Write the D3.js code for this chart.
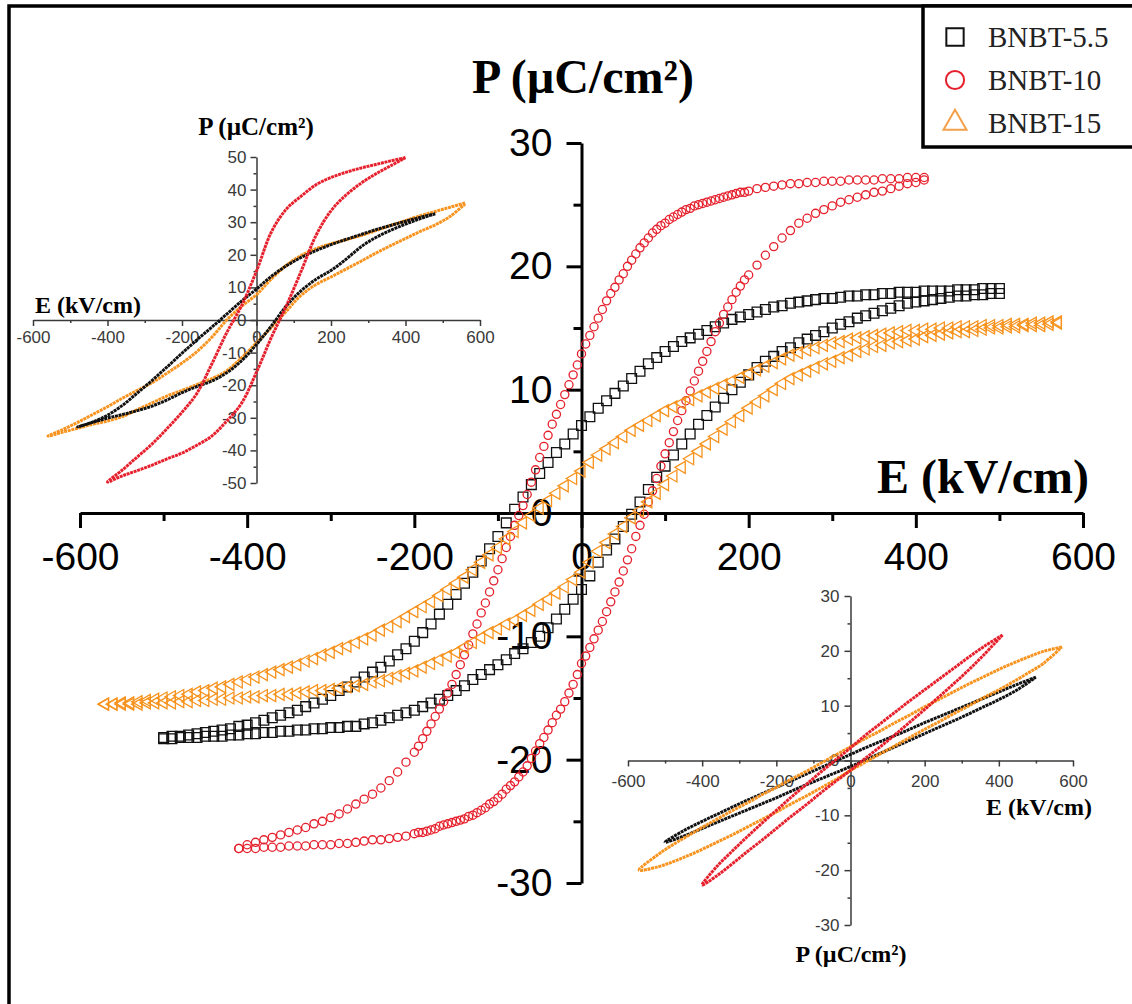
<!DOCTYPE html>
<html>
<head>
<meta charset="utf-8">
<script src="https://cdn.jsdelivr.net/npm/d3@7"></script>
<style>
  body { margin: 0; background: #fff; }
</style>
</head>
<body>
<div id="chart"></div>
<script>
// ---- main plot, field grids (kV/cm) ----
const E_BNBT55 = [
  -500, -490, -480, -470, -460, -450, -440, -430, -420, -410,
  -400, -390, -380, -370, -360, -350, -340, -330, -320, -310,
  -300, -290, -280, -270, -260, -250, -240, -230, -220, -210,
  -200, -190, -180, -170, -160, -150, -140, -130, -120, -110,
  -100, -90, -80, -70, -60, -50, -40, -30, -20, -10,
  0, 10, 20, 30, 40, 50, 60, 70, 80, 90,
  100, 110, 120, 130, 140, 150, 160, 170, 180, 190,
  200, 210, 220, 230, 240, 250, 260, 270, 280, 290,
  300, 310, 320, 330, 340, 350, 360, 370, 380, 390,
  400, 410, 420, 430, 440, 450, 460, 470, 480, 490,
  500
];
// polarisation (uC/cm2), descending-field branch
const P_BNBT55_UP = [
  -18.2, -18.1, -18.1, -18.0, -17.9, -17.8, -17.7, -17.6, -17.5, -17.3,
  -17.2, -17.0, -16.8, -16.6, -16.4, -16.2, -16.0, -15.7, -15.4, -15.1,
  -14.8, -14.4, -14.1, -13.7, -13.3, -12.9, -12.5, -12.0, -11.5, -11.0,
  -10.4, -9.7, -9.0, -8.2, -7.4, -6.6, -5.7, -4.8, -3.9, -2.9,
  -1.9, -0.8, 0.3, 1.3, 2.3, 3.2, 4.1, 4.9, 5.6, 6.4,
  7.1, 7.8, 8.5, 9.1, 9.7, 10.3, 10.9, 11.5, 12.1, 12.6,
  13.1, 13.5, 13.9, 14.2, 14.5, 14.8, 15.1, 15.4, 15.7, 15.9,
  16.1, 16.3, 16.5, 16.7, 16.8, 17.0, 17.1, 17.2, 17.3, 17.4,
  17.4, 17.5, 17.6, 17.6, 17.7, 17.7, 17.8, 17.8, 17.9, 17.9,
  17.9, 18.0, 18.0, 18.0, 18.0, 18.1, 18.1, 18.1, 18.2, 18.2,
  18.2
];
// ascending-field branch
const P_BNBT55_DN = [
  -18.3, -18.3, -18.2, -18.2, -18.2, -18.1, -18.1, -18.1, -18.0, -18.0,
  -17.9, -17.9, -17.8, -17.8, -17.7, -17.7, -17.6, -17.6, -17.5, -17.5,
  -17.4, -17.4, -17.3, -17.3, -17.1, -17.0, -16.8, -16.6, -16.4, -16.2,
  -16.0, -15.7, -15.4, -15.1, -14.8, -14.4, -14.0, -13.5, -13.1, -12.7,
  -12.3, -11.9, -11.4, -11.0, -10.5, -10.0, -9.3, -8.6, -7.8, -7.0,
  -6.2, -5.1, -4.0, -3.0, -2.1, -1.1, -0.1, 0.9, 1.9, 2.9,
  3.8, 4.7, 5.6, 6.4, 7.2, 7.9, 8.6, 9.3, 10.0, 10.6,
  11.2, 11.8, 12.3, 12.7, 13.1, 13.4, 13.8, 14.1, 14.4, 14.7,
  15.0, 15.3, 15.5, 15.8, 16.0, 16.2, 16.4, 16.6, 16.8, 17.0,
  17.1, 17.2, 17.3, 17.4, 17.5, 17.6, 17.6, 17.7, 17.7, 17.8,
  17.8
];

const E_BNBT10 = [
  -410,
  -400, -390, -380, -370, -360, -350, -340, -330, -320, -310,
  -300, -290, -280, -270, -260, -250, -240, -230, -220, -210,
  -200, -195, -190, -185, -180, -175, -170, -165, -160, -155,
  -150, -145, -140, -135, -130, -125, -120, -115, -110, -105,
  -100, -95, -90, -85, -80, -75, -70, -65, -60, -55,
  -50, -45, -40, -35, -30, -25, -20, -15, -10, -5,
  0, 5, 10, 15, 20, 25, 30, 35, 40, 45,
  50, 55, 60, 65, 70, 75, 80, 85, 90, 95,
  100, 105, 110, 115, 120, 125, 130, 135, 140, 145,
  150, 155, 160, 165, 170, 175, 180, 185, 190, 195,
  200, 210, 220, 230, 240, 250, 260, 270, 280, 290,
  300, 310, 320, 330, 340, 350, 360, 370, 380, 390,
  400, 410
];
const P_BNBT10_UP = [
  -27.2,
  -26.9, -26.7, -26.5, -26.3, -26.1, -25.9, -25.7, -25.5, -25.2, -25.0,
  -24.7, -24.4, -24.0, -23.6, -23.2, -22.8, -22.3, -21.7, -21.0, -20.2,
  -19.4, -18.9, -18.3, -17.7, -17.1, -16.5, -15.9, -15.3, -14.6, -13.9,
  -13.1, -12.3, -11.5, -10.7, -9.8, -9.0, -8.1, -7.3, -6.4, -5.5,
  -4.6, -3.7, -2.8, -1.9, -1.0, -0.2, 0.6, 1.5, 2.5, 3.5,
  4.5, 5.4, 6.3, 7.2, 8.0, 8.8, 9.6, 10.4, 11.2, 12.0,
  12.9, 13.7, 14.4, 15.1, 15.8, 16.5, 17.2, 17.8, 18.3, 18.9,
  19.4, 20.0, 20.5, 21.0, 21.5, 21.9, 22.3, 22.7, 23.0, 23.3,
  23.5, 23.8, 24.0, 24.2, 24.4, 24.6, 24.7, 24.9, 25.0, 25.1,
  25.2, 25.3, 25.4, 25.5, 25.6, 25.7, 25.8, 25.9, 26.0, 26.0,
  26.1, 26.3, 26.4, 26.5, 26.6, 26.7, 26.7, 26.8, 26.8, 26.9,
  26.9, 26.9, 27.0, 27.0, 27.0, 27.0, 27.1, 27.1, 27.1, 27.2,
  27.2, 27.2
];
const P_BNBT10_DN = [
  -27.2,
  -27.2, -27.2, -27.1, -27.1, -27.1, -27.0, -27.0, -27.0, -26.9, -26.9,
  -26.9, -26.8, -26.8, -26.7, -26.6, -26.5, -26.5, -26.4, -26.3, -26.2,
  -26.0, -25.9, -25.9, -25.8, -25.7, -25.6, -25.4, -25.3, -25.2, -25.1,
  -25.0, -24.9, -24.8, -24.6, -24.5, -24.3, -24.1, -23.9, -23.6, -23.4,
  -23.1, -22.8, -22.4, -22.1, -21.8, -21.4, -21.0, -20.5, -19.9, -19.3,
  -18.7, -18.2, -17.6, -17.0, -16.4, -15.9, -15.3, -14.6, -13.9, -13.1,
  -12.2, -11.6, -10.9, -10.2, -9.5, -8.8, -8.0, -7.2, -6.4, -5.6,
  -4.7, -3.8, -2.9, -1.9, -1.0, -0.1, 0.9, 1.8, 2.8, 3.8,
  4.8, 5.7, 6.6, 7.5, 8.3, 9.1, 9.9, 10.7, 11.5, 12.3,
  13.1, 13.9, 14.7, 15.4, 16.1, 16.7, 17.3, 17.9, 18.4, 18.9,
  19.3, 20.1, 20.9, 21.6, 22.3, 22.9, 23.5, 23.9, 24.3, 24.6,
  24.9, 25.2, 25.4, 25.6, 25.8, 26.0, 26.1, 26.3, 26.5, 26.7,
  26.8, 27.0
];

const E_BNBT15 = [
  -570, -560, -550, -540, -530, -520, -510,
  -500, -490, -480, -470, -460, -450, -440, -430, -420, -410,
  -400, -390, -380, -370, -360, -350, -340, -330, -320, -310,
  -300, -290, -280, -270, -260, -250, -240, -230, -220, -210,
  -200, -190, -180, -170, -160, -150, -140, -130, -120, -110,
  -100, -90, -80, -70, -60, -50, -40, -30, -20, -10,
  0, 10, 20, 30, 40, 50, 60, 70, 80, 90,
  100, 110, 120, 130, 140, 150, 160, 170, 180, 190,
  200, 210, 220, 230, 240, 250, 260, 270, 280, 290,
  300, 310, 320, 330, 340, 350, 360, 370, 380, 390,
  400, 410, 420, 430, 440, 450, 460, 470, 480, 490,
  500, 510, 520, 530, 540, 550, 560, 570
];
const P_BNBT15_UP = [
  -15.5, -15.5, -15.4, -15.4, -15.3, -15.2, -15.1,
  -15.0, -14.9, -14.8, -14.7, -14.5, -14.4, -14.2, -14.1, -13.9, -13.7,
  -13.5, -13.3, -13.1, -12.9, -12.7, -12.5, -12.3, -12.0, -11.8, -11.5,
  -11.3, -11.0, -10.8, -10.5, -10.2, -9.9, -9.5, -9.2, -8.8, -8.4,
  -8.0, -7.6, -7.2, -6.7, -6.2, -5.7, -5.2, -4.6, -4.0, -3.4,
  -2.8, -2.1, -1.5, -0.8, -0.2, 0.4, 1.0, 1.6, 2.2, 2.8,
  3.4, 4.1, 4.7, 5.2, 5.7, 6.2, 6.7, 7.1, 7.5, 7.9,
  8.3, 8.6, 8.9, 9.2, 9.5, 9.8, 10.1, 10.4, 10.7, 11.0,
  11.3, 11.6, 11.9, 12.2, 12.5, 12.8, 13.0, 13.2, 13.4, 13.6,
  13.8, 13.9, 14.1, 14.2, 14.3, 14.4, 14.5, 14.6, 14.7, 14.8,
  14.8, 14.9, 14.9, 15.0, 15.0, 15.1, 15.1, 15.1, 15.2, 15.2,
  15.2, 15.3, 15.3, 15.3, 15.4, 15.4, 15.5, 15.5
];
const P_BNBT15_DN = [
  -15.5, -15.5, -15.5, -15.5, -15.5, -15.4, -15.4,
  -15.4, -15.4, -15.3, -15.3, -15.2, -15.2, -15.1, -15.1, -15.0, -15.0,
  -14.9, -14.9, -14.8, -14.8, -14.7, -14.7, -14.6, -14.5, -14.4, -14.4,
  -14.3, -14.2, -14.1, -14.0, -13.9, -13.7, -13.6, -13.4, -13.2, -13.0,
  -12.8, -12.5, -12.2, -11.9, -11.6, -11.3, -10.9, -10.5, -10.1, -9.7,
  -9.4, -9.0, -8.7, -8.3, -7.9, -7.4, -7.0, -6.5, -6.0, -5.4,
  -4.8, -4.0, -3.1, -2.4, -1.7, -1.1, -0.4, 0.2, 0.9, 1.6,
  2.3, 3.0, 3.7, 4.4, 5.0, 5.6, 6.2, 6.8, 7.4, 7.9,
  8.5, 9.0, 9.5, 10.0, 10.5, 10.9, 11.2, 11.5, 11.8, 12.1,
  12.3, 12.6, 12.8, 13.1, 13.3, 13.5, 13.6, 13.8, 13.9, 14.0,
  14.1, 14.3, 14.4, 14.5, 14.6, 14.7, 14.7, 14.8, 14.9, 15.0,
  15.0, 15.1, 15.1, 15.2, 15.2, 15.2, 15.3, 15.4
];

// ---- top-left inset ----
const A_E_RED = [-400, -360, -320, -280, -240, -200, -160, -120, -80, -40, 0, 40, 80, 120, 160, 200, 240, 280, 320, 360, 400];
const A_RED_UP = [-49.7, -46.0, -42.0, -38.0, -33.3, -28.3, -22.5, -13.5, -3.9, 4.4, 15.0, 27.0, 34.0, 38.0, 41.5, 43.7, 45.3, 46.6, 47.7, 48.8, 49.8];
const A_RED_DN = [-49.7, -47.8, -46.2, -44.5, -42.6, -40.8, -38.4, -35.6, -31.0, -25.5, -16.0, -5.3, 4.3, 15.0, 26.0, 33.5, 38.3, 41.9, 44.8, 47.3, 49.8];
const A_E_BLK = [-480, -440, -400, -360, -320, -280, -240, -200, -160, -120, -80, -40, 0, 40, 80, 120, 160, 200, 240, 280, 320, 360, 400, 440, 480];
const A_BLK_UP = [-32.8, -31.3, -29.2, -26.2, -22.4, -18.5, -14.4, -10.2, -6.1, -2.2, 1.8, 5.8, 9.5, 13.4, 16.6, 19.2, 21.3, 23.1, 24.7, 26.2, 27.7, 29.0, 30.3, 31.5, 32.6];
const A_BLK_DN = [-32.8, -31.4, -30.1, -29.0, -27.8, -26.4, -24.5, -22.3, -20.4, -18.7, -16.2, -12.5, -7.5, -1.8, 4.3, 9.0, 12.5, 15.2, 18.6, 22.4, 25.3, 27.5, 29.4, 31.1, 32.6];
const A_E_ORG = [-560, -520, -480, -440, -400, -360, -320, -280, -240, -200, -160, -120, -80, -40, 0, 40, 80, 120, 160, 200, 240, 280, 320, 360, 400, 440, 480, 520, 560];
const A_ORG_UP = [-35.6, -33.6, -31.4, -29.0, -26.6, -24.0, -21.6, -19.2, -16.3, -13.2, -9.7, -5.3, 0.0, 4.2, 7.8, 12.6, 16.8, 19.8, 21.9, 23.4, 24.6, 25.9, 27.4, 29.0, 30.5, 32.0, 33.3, 34.6, 35.9];
const A_ORG_DN = [-35.6, -34.4, -33.2, -32.0, -31.0, -29.6, -27.5, -25.4, -23.3, -21.6, -19.8, -18.0, -15.6, -11.6, -7.0, -2.3, 2.7, 7.6, 10.9, 13.2, 15.6, 18.0, 20.5, 22.8, 25.0, 27.2, 29.2, 31.8, 35.6];

// ---- bottom-right inset ----
const B_E_RED = [-400, -360, -320, -280, -240, -200, -160, -120, -80, -40, 0, 40, 80, 120, 160, 200, 240, 280, 320, 360, 410];
const B_RED_UP = [-22.7, -19.3, -16.6, -14.0, -11.5, -9.1, -6.7, -4.4, -2.1, 0.1, 2.3, 4.6, 6.7, 8.8, 10.9, 12.9, 14.9, 16.9, 18.9, 20.8, 22.9];
const B_RED_DN = [-22.7, -21.0, -18.9, -16.7, -14.6, -12.4, -10.2, -8.1, -5.9, -3.8, -1.8, 0.4, 2.5, 4.7, 7.0, 9.3, 11.7, 14.1, 16.6, 19.3, 22.9];
const B_E_BLK = [-500, -450, -400, -350, -300, -250, -200, -150, -100, -50, 0, 50, 100, 150, 200, 250, 300, 350, 400, 450, 500];
const B_BLK_UP = [-14.9, -12.8, -11.1, -9.5, -7.9, -6.4, -4.9, -3.4, -1.9, -0.4, 1.1, 2.6, 4.0, 5.4, 6.9, 8.3, 9.7, 11.1, 12.5, 13.9, 15.2];
const B_BLK_DN = [-14.9, -13.8, -12.4, -11.0, -9.6, -8.2, -6.8, -5.3, -3.9, -2.5, -1.1, 0.4, 1.9, 3.4, 4.9, 6.4, 7.9, 9.5, 11.1, 12.9, 15.2];
const B_E_ORG = [-570, -520, -480, -440, -400, -360, -320, -280, -240, -200, -160, -120, -80, -40, 0, 40, 80, 120, 160, 200, 240, 280, 320, 360, 400, 440, 480, 520, 570];
const B_ORG_UP = [-20.0, -17.2, -15.4, -13.8, -12.2, -10.7, -9.2, -7.8, -6.3, -4.9, -3.4, -2.0, -0.5, 1.0, 2.5, 4.0, 5.4, 6.9, 8.3, 9.8, 11.2, 12.6, 14.0, 15.3, 16.6, 17.8, 18.9, 19.9, 20.7];
const B_ORG_DN = [-20.0, -19.4, -18.5, -17.4, -16.2, -14.9, -13.6, -12.2, -10.8, -9.4, -7.9, -6.5, -5.0, -3.5, -1.8, -0.3, 1.2, 2.7, 4.2, 5.7, 7.1, 8.6, 10.0, 11.5, 12.9, 14.4, 16.0, 17.7, 20.7];

// ---- ticks and labels ----
const MAIN_X_TICKS = [-600, -400, -200, 0, 200, 400, 600];
const MAIN_X_MINOR = [-500, -300, -100, 100, 300, 500];
const MAIN_Y_TICKS = [-30, -20, -10, 0, 10, 20, 30];
const MAIN_Y_MINOR = [-25, -15, -5, 5, 15, 25];
const A_Y_TICKS = [-50, -40, -30, -20, -10, 0, 10, 20, 30, 40, 50];
const A_Y_MINOR = [-45, -35, -25, -15, -5, 5, 15, 25, 35, 45];
const B_Y_TICKS = [-30, -20, -10, 0, 10, 20, 30];
const B_Y_MINOR = [-25, -15, -5, 5, 15, 25];
const SERIES_NAMES = ["BNBT-5.5", "BNBT-10", "BNBT-15"];
const P_LABEL = "P (\u00B5C/cm\u00B2)";
const E_LABEL = "E (kV/cm)";

const COL_BLK = "#111111";
const COL_RED = "#e5202c";
const COL_ORG = "#f7931e";
const SANS = "'Liberation Sans', Arial, sans-serif";
const SERIF = "'Liberation Serif', 'Times New Roman', serif";

const width = 1132;
const height = 1004;

const svg = d3.select("#chart").append("svg")
  .attr("width", width)
  .attr("height", height);

svg.append("rect").attr("width", width).attr("height", height).attr("fill", "#fff");

// outer frame (only left and top edges are in view)
svg.append("path")
  .attr("d", `M9,${height + 5} V6 H${width + 5}`)
  .attr("fill", "none")
  .attr("stroke", "#000")
  .attr("stroke-width", 3.5);

// ---------- helpers ----------
const plainNum = d => String(d); // hyphen minus, like the original

function styleAxis(g, color, lw, fontSize) {
  g.select(".domain").attr("stroke", color).attr("stroke-width", lw);
  g.selectAll(".tick line").attr("stroke", color).attr("stroke-width", lw);
  g.selectAll(".tick text")
    .attr("fill", color)
    .style("font-family", SANS)
    .style("font-size", fontSize + "px");
}

function drawAxes(g, xs, ys, opt) {
  const xAxis = g.append("g").attr("transform", `translate(0,${ys(0)})`)
    .call(d3.axisBottom(xs).tickValues(opt.xTicks).tickFormat(plainNum)
      .tickSize(opt.major).tickSizeOuter(0).tickPadding(opt.xPad));
  styleAxis(xAxis, opt.color, opt.lw, opt.font);
  const xMinor = g.append("g").attr("transform", `translate(0,${ys(0)})`)
    .call(d3.axisBottom(xs).tickValues(opt.xMinor).tickSize(opt.minor).tickSizeOuter(0).tickFormat(""));
  styleAxis(xMinor, opt.color, opt.lw, opt.font);
  xMinor.select(".domain").remove();

  const yAxis = g.append("g").attr("transform", `translate(${xs(0)},0)`)
    .call(d3.axisLeft(ys).tickValues(opt.yTicks).tickFormat(plainNum)
      .tickSize(opt.major).tickSizeOuter(0).tickPadding(opt.yPad));
  styleAxis(yAxis, opt.color, opt.lw, opt.font);
  const yMinor = g.append("g").attr("transform", `translate(${xs(0)},0)`)
    .call(d3.axisLeft(ys).tickValues(opt.yMinor).tickSize(opt.minor).tickSizeOuter(0).tickFormat(""));
  styleAxis(yMinor, opt.color, opt.lw, opt.font);
  yMinor.select(".domain").remove();
}

function loopPoints(E, up, dn) {
  // descending branch from +Emax to -Emax, then back along the ascending branch
  const pts = [];
  for (let i = E.length - 1; i >= 0; i--) pts.push([E[i], up[i]]);
  for (let i = 1; i < E.length; i++) pts.push([E[i], dn[i]]);
  return pts;
}

function drawInsetLoop(g, xs, ys, E, up, dn, color) {
  const line = d3.line()
    .x(d => xs(d[0]))
    .y(d => ys(d[1]))
    .curve(d3.curveCatmullRom.alpha(0.5));
  g.append("path")
    .attr("d", line(loopPoints(E, up, dn)))
    .attr("fill", "none")
    .attr("stroke", color)
    .attr("stroke-width", 3)
    .attr("stroke-dasharray", "3,0.7")
    .attr("stroke-linejoin", "round");
}

function drawMarkers(g, xs, ys, E, up, dn, type, size, color, rot) {
  const pts = [];
  E.forEach((e, i) => {
    pts.push([e, up[i]]);
    pts.push([e, dn[i]]);
  });
  const sym = d3.symbol().type(type).size(size);
  g.selectAll(null)
    .data(pts)
    .join("path")
    .attr("d", sym)
    .attr("transform", d => `translate(${xs(d[0])},${ys(d[1])})` + (rot ? ` rotate(${rot})` : ""))
    .attr("fill", "none")
    .attr("stroke", color)
    .attr("stroke-width", 1.3);
}

// ---------- top-left inset ----------
const gA = svg.append("g").attr("class", "inset-a");
const xA = d3.scaleLinear().domain([-600, 600]).range([33, 480]);
const yA = d3.scaleLinear().domain([-50, 50]).range([483, 157]);
drawAxes(gA, xA, yA, {
  xTicks: MAIN_X_TICKS, xMinor: MAIN_X_MINOR, yTicks: A_Y_TICKS, yMinor: A_Y_MINOR,
  major: 6, minor: 3, xPad: 5, yPad: 4, color: "#3a3a3a", lw: 1.5, font: 17
});
drawInsetLoop(gA, xA, yA, A_E_ORG, A_ORG_UP, A_ORG_DN, COL_ORG);
drawInsetLoop(gA, xA, yA, A_E_BLK, A_BLK_UP, A_BLK_DN, COL_BLK);
drawInsetLoop(gA, xA, yA, A_E_RED, A_RED_UP, A_RED_DN, COL_RED);
gA.append("text").attr("x", 256).attr("y", 135).attr("text-anchor", "middle")
  .style("font-family", SERIF).style("font-weight", "bold").style("font-size", "25px").text(P_LABEL);
gA.append("text").attr("x", 35).attr("y", 313)
  .style("font-family", SERIF).style("font-weight", "bold").style("font-size", "24px").text(E_LABEL);

// ---------- bottom-right inset ----------
const gB = svg.append("g").attr("class", "inset-b");
const xB = d3.scaleLinear().domain([-600, 600]).range([628, 1073]);
const yB = d3.scaleLinear().domain([-30, 30]).range([925, 596]);
drawAxes(gB, xB, yB, {
  xTicks: MAIN_X_TICKS, xMinor: MAIN_X_MINOR, yTicks: B_Y_TICKS, yMinor: B_Y_MINOR,
  major: 6, minor: 3, xPad: 8, yPad: 5, color: "#3a3a3a", lw: 1.5, font: 17
});
drawInsetLoop(gB, xB, yB, B_E_BLK, B_BLK_UP, B_BLK_DN, COL_BLK);
drawInsetLoop(gB, xB, yB, B_E_ORG, B_ORG_UP, B_ORG_DN, COL_ORG);
drawInsetLoop(gB, xB, yB, B_E_RED, B_RED_UP, B_RED_DN, COL_RED);
gB.append("text").attr("x", 1092).attr("y", 815).attr("text-anchor", "end")
  .style("font-family", SERIF).style("font-weight", "bold").style("font-size", "24px").text(E_LABEL);
gB.append("text").attr("x", 851).attr("y", 962).attr("text-anchor", "middle")
  .style("font-family", SERIF).style("font-weight", "bold").style("font-size", "24px").text(P_LABEL);

// ---------- main plot ----------
const gM = svg.append("g").attr("class", "main");
const x = d3.scaleLinear().domain([-600, 600]).range([80, 1083]);
const y = d3.scaleLinear().domain([-30, 30]).range([883, 143]);
drawAxes(gM, x, y, {
  xTicks: MAIN_X_TICKS, xMinor: MAIN_X_MINOR, yTicks: MAIN_Y_TICKS, yMinor: MAIN_Y_MINOR,
  major: 15, minor: 8, xPad: 14, yPad: 14, color: "#000", lw: 3, font: 39
});

drawMarkers(gM, x, y, E_BNBT55, P_BNBT55_UP, P_BNBT55_DN, d3.symbolSquare, 95, COL_BLK, 0);
drawMarkers(gM, x, y, E_BNBT10, P_BNBT10_UP, P_BNBT10_DN, d3.symbolCircle, 52, COL_RED, 0);
drawMarkers(gM, x, y, E_BNBT15, P_BNBT15_UP, P_BNBT15_DN, d3.symbolTriangle, 62, COL_ORG, -90);

gM.append("text").attr("x", 583).attr("y", 93).attr("text-anchor", "middle")
  .style("font-family", SERIF).style("font-weight", "bold").style("font-size", "48px").text(P_LABEL);
gM.append("text").attr("x", 877).attr("y", 493)
  .style("font-family", SERIF).style("font-weight", "bold").style("font-size", "48px").text(E_LABEL);

// ---------- legend ----------
const gL = svg.append("g").attr("class", "legend");
gL.append("rect")
  .attr("x", 923).attr("y", 6).attr("width", 230).attr("height", 141)
  .attr("fill", "#fff").attr("stroke", "#000").attr("stroke-width", 3.5);
const legendRows = [
  { name: SERIES_NAMES[0], type: d3.symbolSquare, size: 300, color: COL_BLK, cy: 37 },
  { name: SERIES_NAMES[1], type: d3.symbolCircle, size: 260, color: COL_RED, cy: 80 },
  { name: SERIES_NAMES[2], type: d3.symbolTriangle, size: 230, color: "#f4a04a", cy: 123 }
];
legendRows.forEach(r => {
  gL.append("path")
    .attr("d", d3.symbol().type(r.type).size(r.size))
    .attr("transform", `translate(955,${r.cy})`)
    .attr("fill", "none").attr("stroke", r.color).attr("stroke-width", 2);
  gL.append("text")
    .attr("x", 988).attr("y", r.cy + 10)
    .attr("fill", "#222")
    .style("font-family", SERIF).style("font-size", "29px")
    .text(r.name);
});
</script>
</body>
</html>
